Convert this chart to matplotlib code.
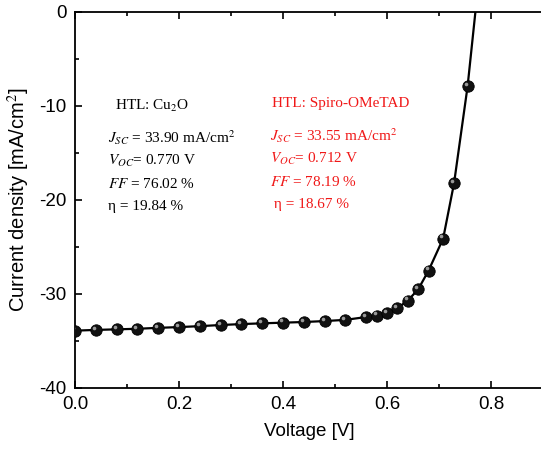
import numpy as np
import matplotlib.pyplot as plt
from matplotlib.ticker import MultipleLocator
from matplotlib.transforms import offset_copy

plt.rcParams.update({'font.family': 'Liberation Sans', 'mathtext.fontset': 'stix'})

# J-V points (measured markers)
voltage = [0.00, 0.04, 0.08, 0.12, 0.16, 0.20, 0.24, 0.28, 0.32, 0.36, 0.40,
           0.44, 0.48, 0.52, 0.56, 0.58, 0.60, 0.62, 0.64, 0.66, 0.68, 0.708,
           0.729, 0.755]
current = [-33.90, -33.82, -33.76, -33.70, -33.60, -33.52, -33.42, -33.30,
           -33.20, -33.12, -33.05, -32.98, -32.88, -32.75, -32.45, -32.30,
           -32.00, -31.50, -30.70, -29.50, -27.50, -24.10, -18.20, -7.90]
voc = 0.770

# device parameters
cu2o = ['HTL: Cu$_{\\mathrm{2}}$O', '$J_{SC}$ = 33.90 mA/cm$^{2}$',
        '$V_{OC}$= 0.770 V', '$FF$ = 76.02 %', 'η = 19.84 %']
spiro = ['HTL: Spiro-OMeTAD', '$J_{SC}$ = 33.55 mA/cm$^{2}$',
         '$V_{OC}$= 0.712 V', '$FF$ = 78.19 %', ' η = 18.67 %']

W, H = 541, 455
fig = plt.figure(figsize=(W / 100, H / 100), dpi=100)
ax = fig.add_axes([75 / W, 1 - 388 / H, 468 / W, 376 / H])

ax.plot(voltage + [voc], current + [0.0], color='k', lw=1.6, zorder=2)
ax.plot(voltage, current, 'o', ms=8.2, color='#111111', mec='k', mew=0.6, zorder=3)
# highlight to give the markers a glossy look
hl = offset_copy(ax.transData, fig=fig, x=-1.4, y=1.6, units='points')
ax.plot(voltage, current, 'o', ms=2.6, color='#9a9a9a', mec='none', transform=hl, zorder=4)

ax.set_xlim(0, 0.9)
ax.set_ylim(-40, 0)
ax.xaxis.set_major_locator(MultipleLocator(0.2))
ax.xaxis.set_minor_locator(MultipleLocator(0.1))
ax.yaxis.set_major_locator(MultipleLocator(10))
ax.yaxis.set_minor_locator(MultipleLocator(5))
ax.xaxis.set_major_formatter(plt.FuncFormatter(lambda v, p: f'{v:.1f}'))
ax.yaxis.set_major_formatter(plt.FuncFormatter(lambda v, p: f'{v:.0f}'))
ax.tick_params(which='both', direction='in', top=True, right=False, labelsize=13.5, width=1.2)
ax.tick_params(which='major', length=5)
ax.tick_params(which='minor', length=3)
ax.tick_params(axis='x', which='major', pad=6)
ax.tick_params(axis='y', which='major', pad=6)
ax.spines['right'].set_visible(False)
for s in ['left', 'bottom', 'top']:
    ax.spines[s].set_linewidth(1.3)

ax.set_xlabel('Voltage [V]', fontsize=13.5, labelpad=7)
ax.set_ylabel('Current density [mA/cm$^2$]', fontsize=14.5, labelpad=5)

rows = [106, 138, 161, 184, 207]
for txt, y in zip(cu2o, rows):
    x = 115 if txt.startswith('HTL') else 108
    fig.text(x / W, 1 - y / H, txt, fontsize=11, family='Liberation Serif',
             va='center', color='k')
for txt, y in zip(spiro, rows):
    x = 272 if txt.startswith('HTL') else 270
    fig.text(x / W, 1 - (y - 2) / H, txt, fontsize=11, family='Liberation Serif',
             va='center', color='#f01818')

fig.savefig('out.png', dpi=100, facecolor='w')
